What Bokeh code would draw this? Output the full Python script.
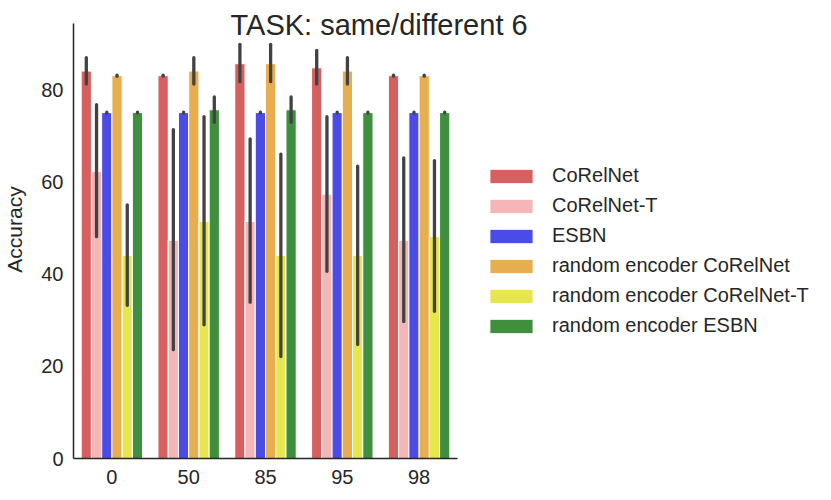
import numpy as np
from bokeh.plotting import figure
from bokeh.models import (ColumnDataSource, Range1d, Legend, LegendItem,
                          Label, FixedTicker)
from bokeh.embed import file_html
from bokeh.resources import INLINE

groups = ["0", "50", "85", "95", "98"]
series = ["CoRelNet", "CoRelNet-T", "ESBN", "random encoder CoRelNet",
          "random encoder CoRelNet-T", "random encoder ESBN"]
colors = ["#d65f5f", "#f4b6b6", "#4b4be6", "#e6ae4e", "#e6e64e", "#3f8f3f"]

mean_corelnet = [84.0, 83.0, 85.6, 84.7, 83.0]
lo_corelnet = [81.2, 82.9, 81.7, 81.2, 82.9]
hi_corelnet = [86.9, 83.1, 89.8, 88.5, 83.1]

mean_corelnet_t = [62.2, 47.3, 51.4, 57.3, 47.3]
lo_corelnet_t = [48.1, 23.6, 33.9, 40.6, 29.7]
hi_corelnet_t = [76.7, 71.3, 69.3, 74.1, 65.2]

mean_esbn = [75.0, 75.0, 75.0, 75.0, 75.0]
lo_esbn = [74.9, 74.9, 74.9, 74.9, 74.9]
hi_esbn = [75.1, 75.1, 75.1, 75.1, 75.1]

mean_re_corelnet = [83.0, 84.0, 85.6, 84.0, 83.0]
lo_re_corelnet = [82.9, 81.2, 81.7, 81.2, 82.9]
hi_re_corelnet = [83.1, 86.9, 89.8, 86.9, 83.1]

mean_re_corelnet_t = [44.0, 51.4, 44.0, 44.0, 48.1]
lo_re_corelnet_t = [33.2, 29.0, 22.1, 24.7, 31.9]
hi_re_corelnet_t = [55.0, 74.1, 66.0, 63.4, 64.6]

mean_re_esbn = [75.0, 75.6, 75.6, 75.0, 75.0]
lo_re_esbn = [74.9, 72.9, 72.9, 74.9, 74.9]
hi_re_esbn = [75.1, 78.4, 78.4, 75.1, 75.1]

means = [mean_corelnet, mean_corelnet_t, mean_esbn, mean_re_corelnet, mean_re_corelnet_t, mean_re_esbn]
lows = [lo_corelnet, lo_corelnet_t, lo_esbn, lo_re_corelnet, lo_re_corelnet_t, lo_re_esbn]
highs = [hi_corelnet, hi_corelnet_t, hi_esbn, hi_re_corelnet, hi_re_corelnet_t, hi_re_esbn]

y_ticks = [0, 20, 40, 60, 80]
y_axis_top = 94.3
title_text = "TASK: same/different 6"
y_label = "Accuracy"

FONT = "Liberation Sans"
TXT = "#262626"

n_groups = len(groups)
centers = np.arange(n_groups) + 0.5
FRAME_W = 742
PX_PER_GROUP = 76.8

p = figure(title=None, frame_width=FRAME_W, frame_height=458,
           x_range=Range1d(0, FRAME_W / PX_PER_GROUP),
           y_range=Range1d(0, 99.3), output_backend="svg", toolbar_location=None,
           min_border_left=65, min_border_right=0, min_border_top=0, min_border_bottom=34)
p.outline_line_color = None
p.grid.grid_line_color = None
p.background_fill_color = "white"

n = len(series)
bw = 0.8 / n
items = []
for k in range(n):
    off = -0.4 + (k + 0.5) * bw
    src = ColumnDataSource(dict(x=centers + off, m=means[k], lo=lows[k], hi=highs[k]))
    r = p.vbar(x="x", top="m", bottom=0, width=bw, source=src,
               fill_color=colors[k], line_color="white", line_width=1)
    p.segment(x0="x", x1="x", y0="lo", y1="hi", source=src, line_color="#424242",
              line_width=3.3, line_cap="round")
    items.append(LegendItem(label=series[k], renderers=[r]))

legend = Legend(items=items, location=(411, 121), glyph_width=54, glyph_height=18,
                label_height=18, spacing=7, padding=0, margin=0, label_standoff=14,
                label_text_font=FONT, label_text_font_size="20px", label_text_color=TXT,
                border_line_color=None, background_fill_alpha=0)
p.add_layout(legend, "center")

for ax in (p.xaxis, p.yaxis):
    ax.axis_line_color = TXT
    ax.axis_line_width = 1.5
    ax.major_tick_line_color = None
    ax.minor_tick_line_color = None
    ax.major_tick_out = 0
    ax.major_tick_in = 0
    ax.major_label_text_font = FONT
    ax.major_label_text_font_size = "20px"
    ax.major_label_text_color = TXT

p.xaxis.ticker = FixedTicker(ticks=list(centers))
p.xaxis.major_label_overrides = {float(c): g for c, g in zip(centers, groups)}
p.xaxis.bounds = (0, n_groups)
p.xaxis.major_label_standoff = 11

p.yaxis.ticker = FixedTicker(ticks=y_ticks)
p.yaxis.bounds = (0, y_axis_top)
p.yaxis.major_label_standoff = 10
p.yaxis.axis_label = y_label
p.yaxis.axis_label_text_font = FONT
p.yaxis.axis_label_text_font_size = "21px"
p.yaxis.axis_label_text_font_style = "normal"
p.yaxis.axis_label_text_color = TXT
p.yaxis.axis_label_standoff = 12

title = Label(x=157, y=434, x_units="screen", y_units="screen", text=title_text,
              text_font=FONT, text_font_size="29px", text_color=TXT,
              text_baseline="alphabetic", text_align="left")
p.add_layout(title)

open("out.html", "w").write(file_html(p, INLINE))
